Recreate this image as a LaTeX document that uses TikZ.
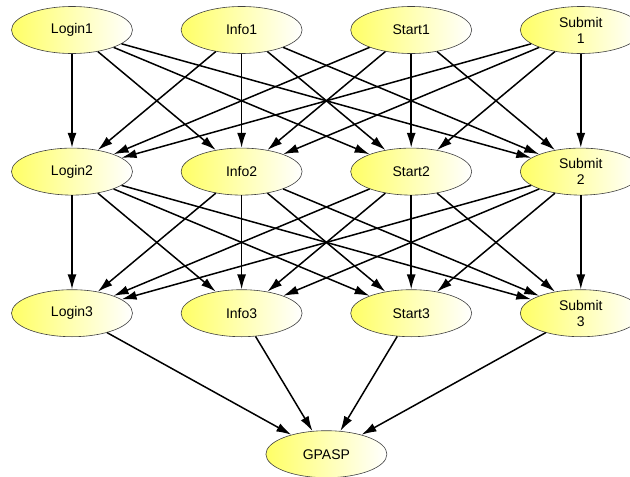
\documentclass[tikz,border=0pt]{standalone}
\usepackage{fontspec}
\setmainfont{Liberation Sans}
\usetikzlibrary{
    arrows.meta,
    positioning,
    shapes.geometric,
    calc
}

\begin{document}
\begin{tikzpicture}[
    x=1pt, y=1pt,
    node distance=94pt and 48pt,
    every node/.style={font=\fontsize{14}{16}\selectfont},
    state/.style={ellipse, draw=black!75, line width=0.6pt, align=center,
      minimum width=121pt, minimum height=47pt, inner sep=1pt,
      left color=yellow!60, right color=white},
    arrow/.style={-{Latex[length=15pt,width=9pt]}, line width=1.5pt}
]
\useasboundingbox (0,0) rectangle (630,-477);
% first row
\node[state] (login1) at (72,-30) {Login1};
\node[state, right=of login1] (info1) {Info1};
\node[state, right=of info1] (start1) {Start1};
\node[state, right=of start1] (submit1) {Submit\\1};
% second row
\node[state, below=of login1] (login2) {Login2};
\node[state, right=of login2] (info2) {Info2};
\node[state, right=of info2] (start2) {Start2};
\node[state, right=of start2] (submit2) {Submit\\2};
% third row
\node[state, below=of login2] (login3) {Login3};
\node[state, right=of login3] (info3) {Info3};
\node[state, right=of info3] (start3) {Start3};
\node[state, right=of start3] (submit3) {Submit\\3};
\node[state] (gpasp) at ($(info3)!0.5!(start3) + (0,-141)$) {GPASP};
% every step to every step of the next row
\foreach \src in {login,info,start,submit}
  \foreach \dst in {login,info,start,submit} {
    \draw[arrow] (\src1) -- (\dst2);
    \draw[arrow] (\src2) -- (\dst3);
  }
\foreach \src in {login,info,start,submit}
  \draw[arrow] (\src3) -- (gpasp);
\end{tikzpicture}
\end{document}
